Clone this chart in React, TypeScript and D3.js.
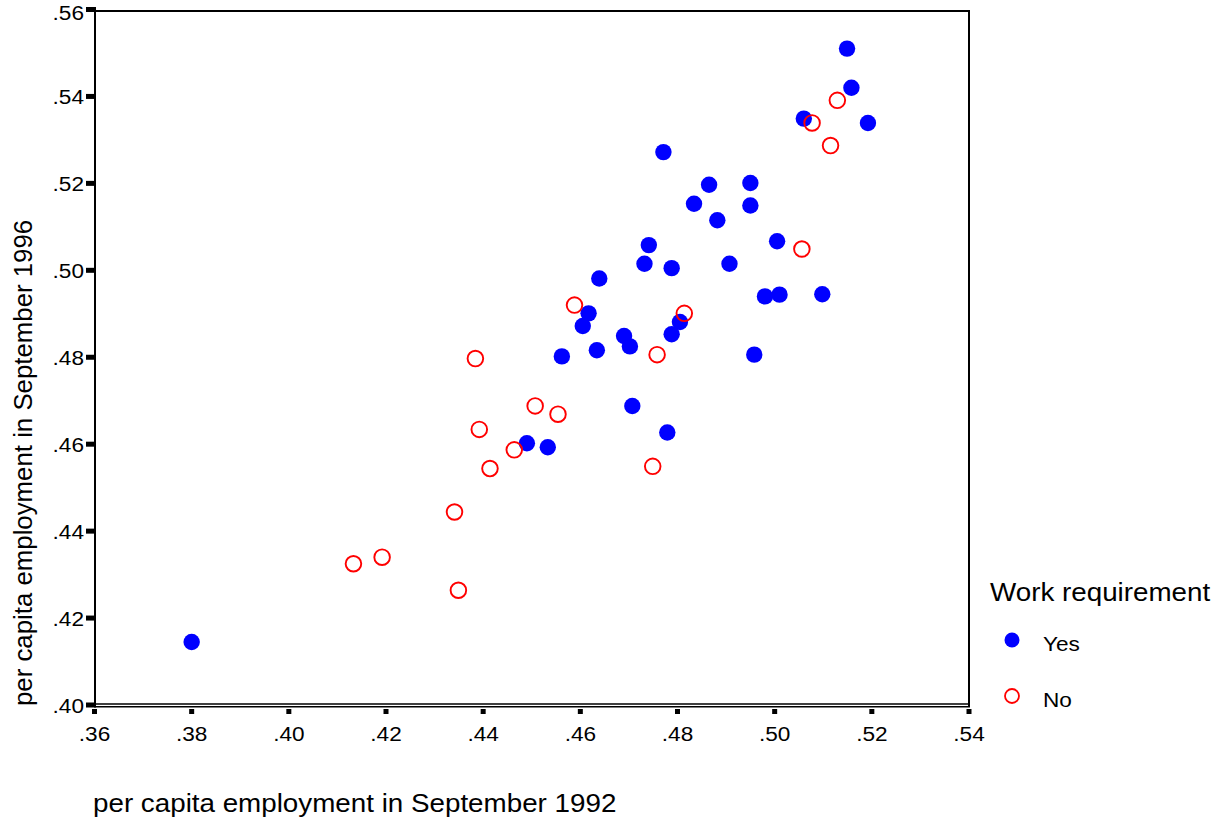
import React, { useEffect, useRef } from 'react';
import * as d3 from 'd3';

// per capita employment, Sept 1992 (x) vs Sept 1996 (y)
const yesX = [0.3800, 0.4490, 0.4533, 0.4562, 0.4605, 0.4617, 0.4634, 0.4639, 0.4690, 0.4702, 0.4707,
  0.4732, 0.4741, 0.4771, 0.4779, 0.4788, 0.4788, 0.4805, 0.4834, 0.4865, 0.4882, 0.4907, 0.4950,
  0.4950, 0.4958, 0.4980, 0.5010, 0.5005, 0.5060, 0.5098, 0.5149, 0.5158, 0.5192];
const yesY = [0.4145, 0.4602, 0.4593, 0.4802, 0.4872, 0.4901, 0.4816, 0.4981, 0.4849, 0.4825, 0.4688,
  0.5015, 0.5058, 0.5272, 0.4627, 0.5005, 0.4853, 0.4881, 0.5153, 0.5197, 0.5115, 0.5015, 0.5201,
  0.5149, 0.4806, 0.4940, 0.4944, 0.5067, 0.5349, 0.4945, 0.5510, 0.5420, 0.5339];

const noX = [0.4133, 0.4192, 0.4341, 0.4349, 0.4384, 0.4392, 0.4414, 0.4464, 0.4507, 0.4554, 0.4588,
  0.4749, 0.4758, 0.4814, 0.5056, 0.5077, 0.5115, 0.5129];
const noY = [0.4325, 0.4340, 0.4444, 0.4264, 0.4797, 0.4634, 0.4544, 0.4587, 0.4688, 0.4669, 0.4920,
  0.4549, 0.4806, 0.4901, 0.5049, 0.5339, 0.5287, 0.5391];

const xTicks = [0.36, 0.38, 0.40, 0.42, 0.44, 0.46, 0.48, 0.50, 0.52, 0.54];
const yTicks = [0.40, 0.42, 0.44, 0.46, 0.48, 0.50, 0.52, 0.54, 0.56];
const groups = ['Yes', 'No'];

const FONT = '"Liberation Sans", Arial, sans-serif';
const SX = 1.077; // the original output is a bit wider than tall

const fmt = (v: number) => d3.format('.2f')(v).replace(/^0/, '');

export default function App() {
  const ref = useRef<SVGSVGElement>(null);

  useEffect(() => {
    const svg = d3.select(ref.current);
    svg.selectAll('*').remove();

    const x = d3.scaleLinear().domain([0.36, 0.54]).range([94.5, 969]);
    const y = d3.scaleLinear().domain([0.40, 0.56]).range([705, 9.5]);

    const g = svg.append('g').attr('font-family', FONT);

    // frame
    g.append('line').attr('x1', 95).attr('x2', 95).attr('y1', 10).attr('y2', 706)
      .attr('stroke', '#000').attr('stroke-width', 2);
    g.append('line').attr('x1', 94).attr('x2', 970).attr('y1', 11).attr('y2', 11)
      .attr('stroke', '#000').attr('stroke-width', 2);
    g.append('line').attr('x1', 969).attr('x2', 969).attr('y1', 10).attr('y2', 707)
      .attr('stroke', '#000').attr('stroke-width', 2);
    g.append('line').attr('x1', 94).attr('x2', 970).attr('y1', 704).attr('y2', 704)
      .attr('stroke', '#000').attr('stroke-width', 1.6);
    g.append('line').attr('x1', 94).attr('x2', 970).attr('y1', 706.8).attr('y2', 706.8)
      .attr('stroke', '#000').attr('stroke-width', 1.4);

    // y ticks
    g.selectAll('.ytick').data(yTicks).enter().append('rect')
      .attr('x', 86).attr('y', (d) => y(d) - 2.5).attr('width', 10).attr('height', 5).attr('fill', '#000');
    g.selectAll('.ylab').data(yTicks).enter().append('text')
      .attr('transform', (d) => `translate(84,${Math.max(y(d), 12)}) scale(${SX},1)`).attr('dy', '0.36em')
      .attr('text-anchor', 'end').attr('font-size', 21).text(fmt);

    // x ticks
    g.selectAll('.xtick').data(xTicks).enter().append('rect')
      .attr('x', (d) => x(d) - 2.5).attr('y', 709).attr('width', 5).attr('height', 5).attr('fill', '#000');
    g.selectAll('.xlab').data(xTicks).enter().append('text')
      .attr('transform', (d) => `translate(${x(d)},741) scale(${SX},1)`)
      .attr('text-anchor', 'middle').attr('font-size', 21).text(fmt);

    // axis titles
    g.append('text').attr('transform', `translate(93,812) scale(${SX},1)`).attr('font-size', 25.8)
      .text('per capita employment in September 1992');
    g.append('text').attr('transform', 'translate(32,706) rotate(-90)').attr('font-size', 25.8)
      .text('per capita employment in September 1996');

    // points
    const noPts = noX.map((v, i) => [v, noY[i]]);
    const yesPts = yesX.map((v, i) => [v, yesY[i]]);

    g.selectAll('.yes').data(yesPts).enter().append('circle')
      .attr('cx', (d) => x(d[0])).attr('cy', (d) => y(d[1])).attr('r', 8.2)
      .attr('fill', '#0000ff');
    g.selectAll('.no').data(noPts).enter().append('circle')
      .attr('cx', (d) => x(d[0])).attr('cy', (d) => y(d[1])).attr('r', 7.8)
      .attr('fill', 'none').attr('stroke', '#ff0000').attr('stroke-width', 1.9);

    // legend
    g.append('text').attr('transform', `translate(990,601) scale(${SX},1)`).attr('font-size', 25.8)
      .text('Work requirement');
    const leg = g.selectAll('.leg').data(groups).enter().append('g')
      .attr('transform', (d, i) => `translate(1012,${640 + i * 56})`);
    leg.append('circle').attr('r', (d) => d === 'Yes' ? 7.5 : 7)
      .attr('fill', (d) => d === 'Yes' ? '#0000ff' : 'none')
      .attr('stroke', (d) => d === 'Yes' ? 'none' : '#ff0000')
      .attr('stroke-width', 1.8);
    leg.append('text').attr('transform', `translate(31,3) scale(${SX},1)`).attr('dy', '0.36em')
      .attr('font-size', 21).text((d) => d);
  }, []);

  return (
    <svg ref={ref} width={1228} height={825}
      style={{ position: 'absolute', left: 0, top: 0, background: '#fff' }} />
  );
}
